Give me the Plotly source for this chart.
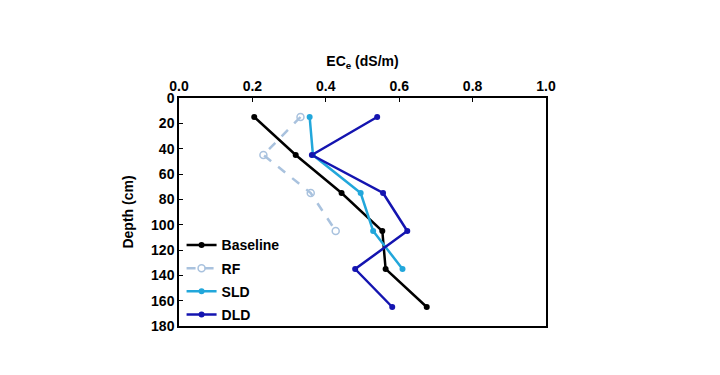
import plotly.graph_objects as go

depth = [15, 45, 75, 105, 135, 165]
baseline = [0.205, 0.318, 0.443, 0.554, 0.563, 0.675]
rf_depth = [15, 45, 75, 105]
rf = [0.331, 0.230, 0.359, 0.427]
sld_depth = [15, 45, 75, 105, 135]
sld = [0.356, 0.365, 0.495, 0.529, 0.609]
dld = [0.540, 0.362, 0.556, 0.622, 0.480, 0.581]

x_ticks = [0.0, 0.2, 0.4, 0.6, 0.8, 1.0]
x_tick_labels = ["0.0", "0.2", "0.4", "0.6", "0.8", "1.0"]
y_ticks = [0, 20, 40, 60, 80, 100, 120, 140, 160, 180]

FAM = "Liberation Sans, Arial, sans-serif"

fig = go.Figure()
fig.add_trace(go.Scatter(x=baseline, y=depth, name="Baseline", mode="lines+markers",
                         legendgroup="a",
                         line=dict(color="#000000", width=2.5),
                         marker=dict(symbol="circle", size=6, color="#000000")))
fig.add_trace(go.Scatter(x=rf, y=rf_depth, name="RF", mode="lines+markers",
                         legendgroup="b",
                         line=dict(color="#a9c2de", width=2.5, dash="dash"),
                         marker=dict(symbol="circle-open", size=7, color="#a9c2de",
                                     line=dict(width=1.5, color="#a9c2de"))))
fig.add_trace(go.Scatter(x=sld, y=sld_depth, name="SLD", mode="lines+markers",
                         legendgroup="c",
                         line=dict(color="#22a7db", width=2.5),
                         marker=dict(symbol="circle", size=6, color="#22a7db")))
fig.add_trace(go.Scatter(x=dld, y=depth, name="DLD", mode="lines+markers",
                         legendgroup="d",
                         line=dict(color="#1414b0", width=2.5),
                         marker=dict(symbol="circle", size=6, color="#1414b0")))

fig.update_layout(
    width=720, height=375,
    margin=dict(l=171, r=182, t=90, b=57),
    paper_bgcolor="white", plot_bgcolor="white",
    font=dict(family=FAM, size=14, color="#000000"),
    showlegend=True,
    legend=dict(x=0.007, y=-0.019, xanchor="left", yanchor="bottom",
                bgcolor="rgba(0,0,0,0)",
                font=dict(size=14, color="#000000", family=FAM, weight="bold"),
                tracegroupgap=2, itemwidth=30),
    xaxis=dict(side="top", range=[0, 1], tickvals=x_ticks, ticktext=x_tick_labels,
               ticks="inside", ticklen=4, tickcolor="#000000",
               showgrid=False, zeroline=False, showline=True, linecolor="#000000",
               linewidth=1.5, mirror=True,
               tickfont=dict(size=14, weight="bold"),
               title=dict(text="<b>EC<sub>e</sub> (dS/m)</b>", font=dict(size=14), standoff=8)),
    yaxis=dict(range=[180, 0], tickvals=y_ticks,
               ticks="inside", ticklen=4, tickcolor="#000000",
               showgrid=False, zeroline=False, showline=True, linecolor="#000000",
               linewidth=1.5, mirror=True,
               tickfont=dict(size=14, weight="bold"),
               title=dict(text="<b>Depth (cm)</b>", font=dict(size=14), standoff=14)),
)

fig.write_html("out.html")
